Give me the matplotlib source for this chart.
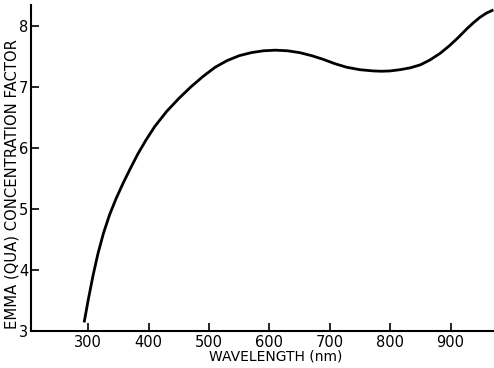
import matplotlib
matplotlib.use("Agg")
import matplotlib.pyplot as plt

# Concentration factor vs wavelength
wavelength = [293, 300, 308, 316, 325, 335, 346, 358, 370, 382, 395, 410, 430, 450,
              470, 490, 510, 530, 550, 570, 590, 610, 630, 650, 670, 689, 708, 728,
              750, 772, 786, 800, 816, 833, 850, 866, 883, 899, 913, 927, 938, 949,
              960, 971]
factor = [3.14, 3.52, 3.92, 4.27, 4.60, 4.90, 5.17, 5.43, 5.67, 5.90, 6.12, 6.35, 6.60, 6.81,
          7.00, 7.17, 7.32, 7.43, 7.51, 7.56, 7.59, 7.60, 7.59, 7.56, 7.51, 7.45, 7.38, 7.32,
          7.28, 7.26, 7.255, 7.26, 7.28, 7.31, 7.36, 7.44, 7.55, 7.68, 7.81, 7.95, 8.05, 8.14,
          8.21, 8.26]

xticks = [300, 400, 500, 600, 700, 800, 900]
yticks = [3, 4, 5, 6, 7, 8]

fig = plt.figure(figsize=(4.94, 3.68), dpi=100)
ax = fig.add_axes([31 / 494, 37 / 368, 463 / 494, 326 / 368])

ax.plot(wavelength, factor, color="black", lw=2.0, solid_capstyle="butt",
        solid_joinstyle="round")

ax.set_xlim(205, 972)
ax.set_ylim(3, 8.34)
ax.set_xticks(xticks)
ax.set_yticks(yticks)
ax.tick_params(axis="both", direction="in", length=6, width=1.2, labelsize=10.5,
               colors="black")
ax.tick_params(axis="x", pad=3)
ax.tick_params(axis="y", pad=2)

for side in ["top", "right"]:
    ax.spines[side].set_visible(False)
for side in ["left", "bottom"]:
    ax.spines[side].set_linewidth(1.5)

fig.text(276 / 494, 1 - 357 / 368, "WAVELENGTH (nm)", ha="center", va="center",
         fontsize=10)
fig.text(12 / 494, 1 - 184 / 368, "EMMA (QUA) CONCENTRATION FACTOR", rotation=90,
         ha="center", va="center", fontsize=10.6)

fig.savefig("out.png", dpi=100)
